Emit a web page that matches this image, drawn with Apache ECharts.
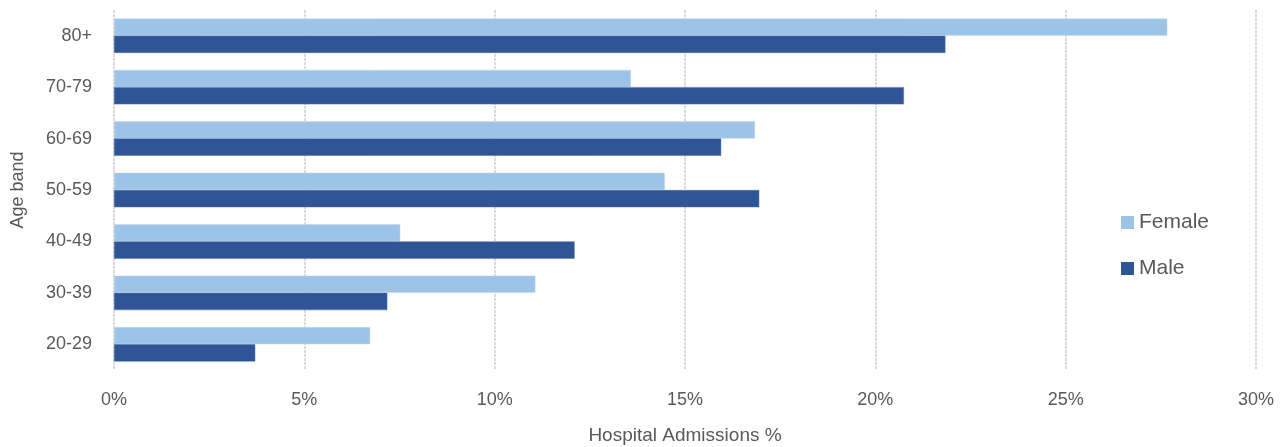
<!DOCTYPE html>
<html>
<head>
<meta charset="utf-8">
<script src="https://cdn.jsdelivr.net/npm/echarts@6/dist/echarts.min.js"></script>
<style>
  html, body { margin: 0; padding: 0; background: #fff; }
  #chart { width: 1288px; height: 447px; }
</style>
</head>
<body>
<div id="chart"></div>
<script>
// Age bands, bottom to top
const ageBands = ['20-29', '30-39', '40-49', '50-59', '60-69', '70-79', '80+'];
// Share of hospital admissions (%) by age band
const femaleValues = [6.73, 11.07, 7.52, 14.47, 16.84, 13.58, 27.67];
const maleValues = [3.71, 7.18, 12.1, 16.95, 15.95, 20.75, 21.84];
const xTicks = [0, 5, 10, 15, 20, 25, 30];

const textColor = '#595959';
const fontFamily = 'Liberation Sans, Arial, sans-serif';

const chart = echarts.init(document.getElementById('chart'), null, { renderer: 'canvas' });

chart.setOption({
  animation: false,
  textStyle: { fontFamily: fontFamily },
  grid: { left: 114, right: 32, top: 10, bottom: 77, containLabel: false, outerBoundsMode: 'none' },
  legend: {
    data: ['Female', 'Male'],
    orient: 'vertical',
    left: 1116,
    top: 207,
    itemGap: 25,
    itemWidth: 13,
    itemHeight: 13,
    icon: 'rect',
    itemStyle: { borderWidth: 0 },
    textStyle: { color: textColor, fontSize: 21, fontFamily: fontFamily }
  },
  xAxis: {
    type: 'value',
    min: xTicks[0],
    max: xTicks[xTicks.length - 1],
    interval: 5,
    name: 'Hospital Admissions %',
    nameLocation: 'middle',
    nameGap: 56,
    nameTextStyle: { color: textColor, fontSize: 19, fontFamily: fontFamily },
    axisLine: { show: false },
    axisTick: { show: false },
    axisLabel: {
      color: textColor, fontSize: 18, margin: 21,
      formatter: v => v + '%'
    },
    splitLine: { show: true, lineStyle: { color: '#dadada', type: [3, 1], width: 2 } }
  },
  yAxis: {
    type: 'category',
    data: ageBands,
    name: 'Age band',
    nameLocation: 'middle',
    nameGap: 87,
    nameRotate: 90,
    nameTextStyle: { color: textColor, fontSize: 18, fontFamily: fontFamily },
    axisLine: { show: false },
    axisTick: { show: false },
    axisLabel: { color: textColor, fontSize: 18, margin: 22 }
  },
  series: [
    {
      name: 'Female',
      type: 'bar',
      data: femaleValues,
      barGap: '0%',
      barCategoryGap: '33%',
      itemStyle: { color: '#9DC3E6', borderColor: '#c3dbf0', borderWidth: 0.5 }
    },
    {
      name: 'Male',
      type: 'bar',
      data: maleValues,
      barGap: '0%',
      barCategoryGap: '33%',
      itemStyle: { color: '#2F5597', borderColor: '#4a6faa', borderWidth: 0.5 }
    }
  ]
});
</script>
</body>
</html>
